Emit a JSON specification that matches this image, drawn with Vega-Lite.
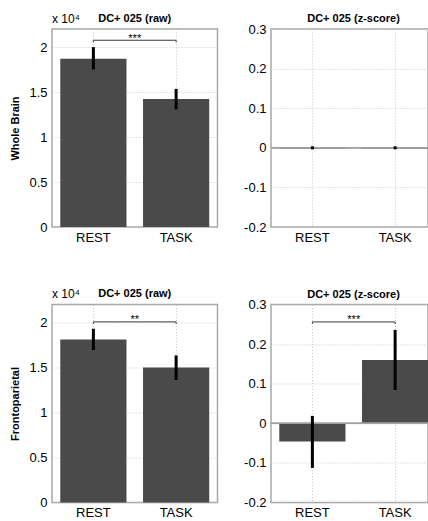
{
  "$schema": "https://vega.github.io/schema/vega-lite/v6.json",
  "padding": {"left": 9, "top": 11, "right": 0, "bottom": 0},
  "background": "white",
  "datasets": {
    "bars": [
      {"region": "Whole Brain", "measure": "raw", "cond": "REST", "mean": 18700, "lo": 17670, "hi": 19820},
      {"region": "Whole Brain", "measure": "raw", "cond": "TASK", "mean": 14220, "lo": 13220, "hi": 15180},
      {"region": "Whole Brain", "measure": "z", "cond": "REST", "mean": 0, "lo": 0, "hi": 0},
      {"region": "Whole Brain", "measure": "z", "cond": "TASK", "mean": 0, "lo": 0, "hi": 0},
      {"region": "Frontoparietal", "measure": "raw", "cond": "REST", "mean": 18110, "lo": 17110, "hi": 19140},
      {"region": "Frontoparietal", "measure": "raw", "cond": "TASK", "mean": 15000, "lo": 13780, "hi": 16180},
      {"region": "Frontoparietal", "measure": "z", "cond": "REST", "mean": -0.046, "lo": -0.109, "hi": 0.015},
      {"region": "Frontoparietal", "measure": "z", "cond": "TASK", "mean": 0.16, "lo": 0.088, "hi": 0.232}
    ],
    "sig": [
      {"region": "Whole Brain", "measure": "raw", "level": 20750, "drop": 20530, "stars": "***", "mult": "x 10⁴"},
      {"region": "Frontoparietal", "measure": "raw", "level": 20070, "drop": 19850, "stars": "**", "mult": "x 10⁴"},
      {"region": "Frontoparietal", "measure": "z", "level": 0.256, "drop": 0.251, "stars": "***", "mult": ""}
    ]
  },
  "columns": 2,
  "bounds": "flush",
  "spacing": {"row": 77.5, "column": 53},
  "concat": [
    {
      "width": 165.5,
      "height": 198,
      "title": {"text": "DC+ 025 (raw)", "offset": -11},
      "data": {"name": "bars"},
      "transform": [{"filter": "datum.region === 'Whole Brain' && datum.measure === 'raw'"}],
      "layer": [
        {
          "mark": {"type": "bar", "color": "#4a4a4a"},
          "encoding": {
            "x": {"field": "cond", "type": "nominal", "sort": ["REST", "TASK"], "scale": {"paddingInner": 0.2, "paddingOuter": 0.1}, "axis": {"title": null, "labelAngle": 0, "grid": true}},
            "y": {"field": "mean", "type": "quantitative", "scale": {"domain": [0, 22000], "nice": false, "zero": false},
                  "axis": {"title": "Whole Brain", "titlePadding": 8, "tickCount": 10, "values": [0, 5000, 10000, 15000, 20000], "labelExpr": "format(datum.value / 10000, '')", "grid": true}}
          }
        },
        {
          "mark": {"type": "rule", "color": "black", "strokeWidth": 3, "strokeCap": "square"},
          "encoding": {
            "x": {"field": "cond", "type": "nominal"},
            "y": {"field": "lo", "type": "quantitative"},
            "y2": {"field": "hi"}
          }
        },
        {
          "data": {"name": "sig"},
          "transform": [{"filter": "datum.region === 'Whole Brain' && datum.measure === 'raw'"}],
          "layer": [
            {"mark": {"type": "rule", "color": "#3a3a3a", "strokeWidth": 1},
             "encoding": {"x": {"datum": "REST", "type": "nominal"}, "x2": {"datum": "TASK"}, "y": {"field": "level", "type": "quantitative"}}},
            {"mark": {"type": "rule", "color": "#3a3a3a", "strokeWidth": 1},
             "encoding": {"x": {"datum": "REST", "type": "nominal"}, "y": {"field": "level", "type": "quantitative"}, "y2": {"field": "drop"}}},
            {"mark": {"type": "rule", "color": "#3a3a3a", "strokeWidth": 1},
             "encoding": {"x": {"datum": "TASK", "type": "nominal"}, "y": {"field": "level", "type": "quantitative"}, "y2": {"field": "drop"}}},
            {"mark": {"type": "text", "font": "Liberation Sans", "fontSize": 11, "baseline": "alphabetic", "dy": 1.5, "color": "black"},
             "encoding": {"x": {"datum": "REST", "type": "nominal", "bandPosition": 1.125}, "y": {"field": "level", "type": "quantitative"}, "text": {"field": "stars"}}},
            {"mark": {"type": "text", "font": "Liberation Sans", "fontSize": 12, "align": "left", "baseline": "alphabetic", "color": "black"},
             "encoding": {"x": {"datum": "REST", "type": "nominal", "bandPosition": -0.125}, "y": {"datum": 22700, "type": "quantitative"}, "text": {"field": "mult"}}}
          ]
        }
      ]
    },
    {
      "width": 157,
      "height": 198,
      "title": {"text": "DC+ 025 (z-score)", "dx": 4, "offset": -1},
      "data": {"name": "bars"},
      "transform": [{"filter": "datum.region === 'Whole Brain' && datum.measure === 'z'"}],
      "layer": [
        {
          "mark": {"type": "bar", "color": "#4a4a4a", "stroke": "#333333", "strokeWidth": 1, "clip": true},
          "encoding": {
            "x": {"field": "cond", "type": "nominal", "sort": ["REST", "TASK"], "scale": {"paddingInner": 0.2, "paddingOuter": 0.1, "range": [0, 165.5]}, "axis": {"title": null, "labelAngle": 0, "grid": true}},
            "y": {"field": "mean", "type": "quantitative", "scale": {"domain": [-0.2, 0.3], "nice": false, "zero": false},
                  "axis": {"title": null, "tickCount": 10, "values": [-0.2, -0.1, 0, 0.1, 0.2, 0.3], "labelOverlap": false, "labelExpr": "datum.value === 0 ? '0' : (datum.value < 0 ? '-' : '') + format(abs(datum.value), '.1f')", "grid": true}}
          }
        },
        {
          "mark": {"type": "rule", "color": "#a0a0a0", "strokeWidth": 1.5},
          "encoding": {"y": {"datum": 0, "type": "quantitative"}}
        },
        {
          "mark": {"type": "rule", "color": "black", "strokeWidth": 3, "strokeCap": "square"},
          "encoding": {
            "x": {"field": "cond", "type": "nominal"},
            "y": {"field": "lo", "type": "quantitative"},
            "y2": {"field": "hi"}
          }
        }
      ]
    },
    {
      "width": 165.5,
      "height": 198,
      "title": {"text": "DC+ 025 (raw)", "offset": -11},
      "data": {"name": "bars"},
      "transform": [{"filter": "datum.region === 'Frontoparietal' && datum.measure === 'raw'"}],
      "layer": [
        {
          "mark": {"type": "bar", "color": "#4a4a4a"},
          "encoding": {
            "x": {"field": "cond", "type": "nominal", "sort": ["REST", "TASK"], "scale": {"paddingInner": 0.2, "paddingOuter": 0.1}, "axis": {"title": null, "labelAngle": 0, "grid": true}},
            "y": {"field": "mean", "type": "quantitative", "scale": {"domain": [0, 22000], "nice": false, "zero": false},
                  "axis": {"title": "Frontoparietal", "titlePadding": 8, "tickCount": 10, "values": [0, 5000, 10000, 15000, 20000], "labelExpr": "format(datum.value / 10000, '')", "grid": true}}
          }
        },
        {
          "mark": {"type": "rule", "color": "black", "strokeWidth": 3, "strokeCap": "square"},
          "encoding": {
            "x": {"field": "cond", "type": "nominal"},
            "y": {"field": "lo", "type": "quantitative"},
            "y2": {"field": "hi"}
          }
        },
        {
          "data": {"name": "sig"},
          "transform": [{"filter": "datum.region === 'Frontoparietal' && datum.measure === 'raw'"}],
          "layer": [
            {"mark": {"type": "rule", "color": "#3a3a3a", "strokeWidth": 1},
             "encoding": {"x": {"datum": "REST", "type": "nominal"}, "x2": {"datum": "TASK"}, "y": {"field": "level", "type": "quantitative"}}},
            {"mark": {"type": "rule", "color": "#3a3a3a", "strokeWidth": 1},
             "encoding": {"x": {"datum": "REST", "type": "nominal"}, "y": {"field": "level", "type": "quantitative"}, "y2": {"field": "drop"}}},
            {"mark": {"type": "rule", "color": "#3a3a3a", "strokeWidth": 1},
             "encoding": {"x": {"datum": "TASK", "type": "nominal"}, "y": {"field": "level", "type": "quantitative"}, "y2": {"field": "drop"}}},
            {"mark": {"type": "text", "font": "Liberation Sans", "fontSize": 11, "baseline": "alphabetic", "dy": 1.5, "color": "black"},
             "encoding": {"x": {"datum": "REST", "type": "nominal", "bandPosition": 1.125}, "y": {"field": "level", "type": "quantitative"}, "text": {"field": "stars"}}},
            {"mark": {"type": "text", "font": "Liberation Sans", "fontSize": 12, "align": "left", "baseline": "alphabetic", "color": "black"},
             "encoding": {"x": {"datum": "REST", "type": "nominal", "bandPosition": -0.125}, "y": {"datum": 22700, "type": "quantitative"}, "text": {"field": "mult"}}}
          ]
        }
      ]
    },
    {
      "width": 157,
      "height": 198,
      "title": {"text": "DC+ 025 (z-score)", "dx": 4, "offset": -1},
      "data": {"name": "bars"},
      "transform": [{"filter": "datum.region === 'Frontoparietal' && datum.measure === 'z'"}],
      "layer": [
        {
          "mark": {"type": "bar", "color": "#4a4a4a", "clip": true},
          "encoding": {
            "x": {"field": "cond", "type": "nominal", "sort": ["REST", "TASK"], "scale": {"paddingInner": 0.2, "paddingOuter": 0.1, "range": [0, 165.5]}, "axis": {"title": null, "labelAngle": 0, "grid": true}},
            "y": {"field": "mean", "type": "quantitative", "scale": {"domain": [-0.2, 0.3], "nice": false, "zero": false},
                  "axis": {"title": null, "tickCount": 10, "values": [-0.2, -0.1, 0, 0.1, 0.2, 0.3], "labelOverlap": false, "labelExpr": "datum.value === 0 ? '0' : (datum.value < 0 ? '-' : '') + format(abs(datum.value), '.1f')", "grid": true}}
          }
        },
        {
          "mark": {"type": "rule", "color": "#a0a0a0", "strokeWidth": 1.5},
          "encoding": {"y": {"datum": 0, "type": "quantitative"}}
        },
        {
          "mark": {"type": "rule", "color": "black", "strokeWidth": 3, "strokeCap": "square"},
          "encoding": {
            "x": {"field": "cond", "type": "nominal"},
            "y": {"field": "lo", "type": "quantitative"},
            "y2": {"field": "hi"}
          }
        },
        {
          "data": {"name": "sig"},
          "transform": [{"filter": "datum.region === 'Frontoparietal' && datum.measure === 'z'"}],
          "layer": [
            {"mark": {"type": "rule", "color": "#3a3a3a", "strokeWidth": 1},
             "encoding": {"x": {"datum": "REST", "type": "nominal"}, "x2": {"datum": "TASK"}, "y": {"field": "level", "type": "quantitative"}}},
            {"mark": {"type": "rule", "color": "#3a3a3a", "strokeWidth": 1},
             "encoding": {"x": {"datum": "REST", "type": "nominal"}, "y": {"field": "level", "type": "quantitative"}, "y2": {"field": "drop"}}},
            {"mark": {"type": "rule", "color": "#3a3a3a", "strokeWidth": 1},
             "encoding": {"x": {"datum": "TASK", "type": "nominal"}, "y": {"field": "level", "type": "quantitative"}, "y2": {"field": "drop"}}},
            {"mark": {"type": "text", "font": "Liberation Sans", "fontSize": 11, "baseline": "alphabetic", "dy": 1.5, "color": "black"},
             "encoding": {"x": {"datum": "REST", "type": "nominal", "bandPosition": 1.125}, "y": {"field": "level", "type": "quantitative"}, "text": {"field": "stars"}}}
          ]
        }
      ]
    }
  ],
  "config": {
    "view": {"stroke": "#a8a8a8", "strokeWidth": 1.5},
    "axis": {
      "domain": false,
      "ticks": false,
      "labelFont": "Liberation Sans",
      "labelFontSize": 13,
      "labelColor": "black",
      "labelPadding": 5,
      "gridColor": "#c8c8c8",
      "gridDash": [1, 2],
      "gridWidth": 1,
      "titleFont": "Liberation Sans",
      "titleFontSize": 11,
      "titleFontWeight": "bold",
      "titleColor": "black"
    },
    "axisX": {"labelPadding": 4},
    "title": {"font": "Liberation Sans", "fontSize": 11, "fontWeight": "bold", "color": "black", "frame": "group", "offset": 6}
  }
}
